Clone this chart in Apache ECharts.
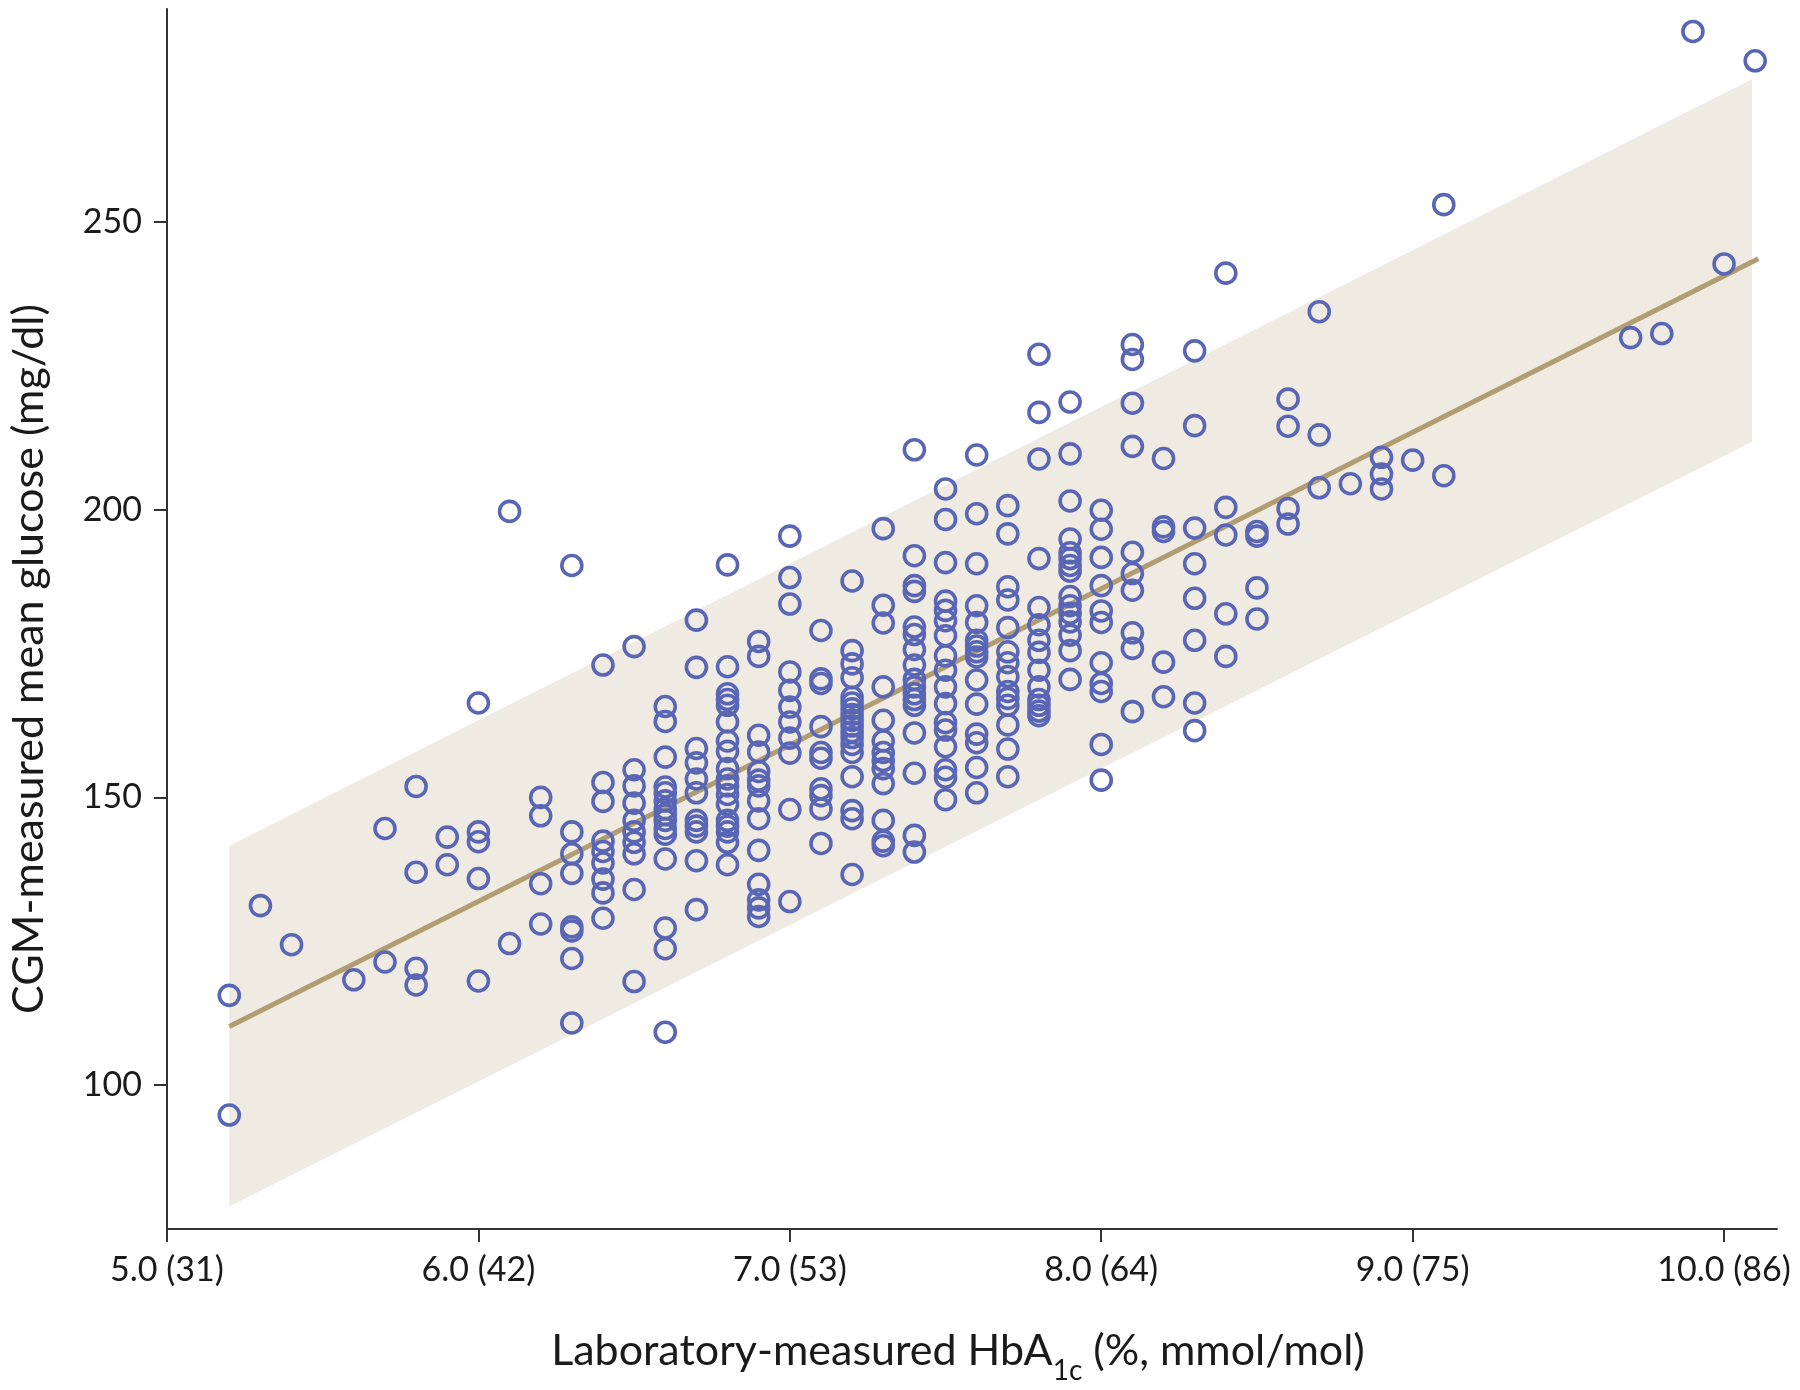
<!DOCTYPE html>
<html>
<head>
<meta charset="utf-8">
<script src="https://cdn.jsdelivr.net/npm/echarts@6.0.0/dist/echarts.min.js"></script>
<style>
  html, body { margin: 0; padding: 0; background: #fff; }
  #chart { width: 1800px; height: 1390px; }
</style>
</head>
<body>
<div id="chart"></div>
<script>
// HbA1c levels (%) and CGM mean glucose readings (mg/dl) at each level
const hba1cLevels = [5.2, 5.3, 5.4, 5.6, 5.7, 5.8, 5.9, 6.0, 6.1, 6.2, 6.3, 6.4, 6.5, 6.6, 6.7, 6.8, 6.9,
  7.0, 7.1, 7.2, 7.3, 7.4, 7.5, 7.6, 7.7, 7.8, 7.9, 8.0, 8.1, 8.2, 8.3, 8.4, 8.5, 8.6, 8.7, 8.8, 8.9,
  9.0, 9.1, 9.7, 9.8, 9.9, 10.0, 10.1];
const glucoseByLevel = [
  [115.6, 94.8],
  [131.2],
  [124.4],
  [118.3],
  [144.6, 121.4],
  [151.9, 137.0, 120.3, 117.4],
  [143.1, 138.3],
  [166.4, 144.0, 142.3, 135.9, 118.1],
  [199.7, 124.6],
  [150.0, 146.8, 135.0, 128.0],
  [190.3, 144.0, 140.2, 136.8, 127.5, 126.8, 122.0, 110.8],
  [173.0, 152.6, 149.3, 142.4, 140.6, 138.6, 135.8, 133.4, 129.0],
  [176.2, 154.8, 152.0, 149.0, 146.0, 144.0, 142.2, 140.2, 134.0, 118.0],
  [165.8, 163.2, 157.0, 151.8, 150.8, 149.4, 148.0, 147.0, 146.0, 144.6, 143.6, 139.3, 127.3, 123.7, 109.2],
  [180.8, 172.6, 158.5, 156.0, 153.2, 150.8, 146.0, 145.0, 144.0, 139.0, 130.5],
  [190.4, 172.7, 168.0, 167.0, 166.0, 163.1, 159.8, 158.0, 155.0, 153.2, 152.0, 150.5, 148.8, 146.0, 145.0, 144.0, 142.2, 138.3],
  [177.1, 174.5, 160.8, 157.9, 154.5, 153.0, 152.0, 149.4, 146.3, 140.8, 134.9, 132.2, 130.8, 129.3],
  [195.4, 188.2, 183.6, 171.8, 168.6, 165.7, 163.1, 160.3, 157.7, 147.9, 131.9],
  [179.0, 170.6, 169.8, 162.3, 157.8, 156.8, 151.5, 150.3, 148.0, 142.0],
  [187.6, 175.5, 173.2, 170.8, 167.4, 166.4, 165.4, 164.4, 163.4, 162.4, 161.4, 160.4, 159.2, 157.8, 153.6, 147.7, 146.3, 136.6],
  [196.7, 183.4, 180.3, 169.2, 163.4, 159.8, 157.8, 156.4, 155.0, 152.4, 146.0, 142.4, 141.6],
  [210.4, 192.0, 186.8, 185.8, 179.6, 178.3, 175.7, 173.0, 170.5, 169.2, 168.0, 167.0, 166.0, 161.2, 154.2, 143.4, 140.5],
  [203.6, 198.3, 190.8, 184.1, 182.5, 180.7, 178.1, 174.6, 172.1, 169.2, 166.3, 163.0, 161.7, 158.8, 154.8, 153.5, 149.6],
  [209.5, 199.3, 190.6, 183.3, 180.4, 177.3, 176.3, 175.3, 174.4, 170.4, 166.2, 161.0, 159.5, 155.2, 150.8],
  [200.7, 195.8, 186.6, 184.3, 179.5, 175.3, 173.4, 171.0, 168.4, 167.2, 166.0, 162.6, 158.4, 153.6],
  [227.0, 216.9, 208.8, 191.5, 183.0, 180.0, 177.3, 175.2, 172.1, 169.2, 167.0, 166.0, 165.0, 164.2],
  [218.7, 209.7, 201.5, 194.9, 192.5, 191.5, 190.3, 189.3, 184.9, 183.3, 182.0, 180.5, 178.2, 175.5, 170.5],
  [199.9, 196.6, 191.7, 186.8, 182.4, 180.4, 173.4, 169.8, 168.4, 159.2, 153.0],
  [228.7, 226.1, 218.5, 211.0, 192.6, 188.9, 186.0, 178.6, 175.9, 164.9],
  [208.9, 197.0, 196.2, 173.5, 167.5],
  [227.6, 214.6, 196.8, 190.6, 184.6, 177.3, 166.4, 161.6],
  [241.1, 200.4, 195.6, 181.9, 174.5],
  [196.2, 195.4, 186.4, 181.0],
  [219.2, 214.5, 200.2, 197.5],
  [234.4, 213.0, 203.8],
  [204.5],
  [209.1, 206.2, 203.6],
  [208.6],
  [253.0, 205.9],
  [229.9],
  [230.6],
  [283.1],
  [242.7],
  [278.0]
];

// regression line and its band
const fitX = [5.2, 10.11];
const fitY = [110.2, 243.6];
const bandX = [5.2, 10.09];
const bandUpper = [141.6, 274.8];
const bandLower = [78.9, 211.8];

// axis ticks
const xTicks = [5, 6, 7, 8, 9, 10];
const xTickLabels = ['5.0 (31)', '6.0 (42)', '7.0 (53)', '8.0 (64)', '9.0 (75)', '10.0 (86)'];
const yTicks = [100, 150, 200, 250];

let points = [];
for (let i = 0; i < hba1cLevels.length; i++) {
  for (let j = 0; j < glucoseByLevel[i].length; j++) {
    points.push([hba1cLevels[i], glucoseByLevel[i][j]]);
  }
}

const font = "Lato";
const textColor = "#1a1a1a";
const axisColor = "#333";

let myEcharts = echarts.init(document.getElementById("chart"));
let option = {
  animation: false,
  grid: { left: 161, right: 23, top: 9, bottom: 160 },
  xAxis: {
    type: "value",
    min: 5,
    max: 10.17,
    name: "{a|Laboratory-measured HbA}{s|1c}{a| (%, mmol/mol)}",
    nameLocation: "middle",
    nameGap: 92,
    nameTextStyle: {
      padding: [0, 28, 0, 0],
      rich: {
        a: { fontFamily: font, fontSize: 43, color: textColor, verticalAlign: "bottom", lineHeight: 52 },
        s: { fontFamily: font, fontSize: 28, color: textColor, verticalAlign: "bottom", lineHeight: 52, padding: [0, 0, -12, 0] }
      }
    },
    splitLine: { show: false },
    axisLine: { lineStyle: { color: axisColor, width: 2 } },
    axisTick: { customValues: xTicks, length: 13, lineStyle: { color: axisColor, width: 2 } },
    axisLabel: {
      customValues: xTicks,
      margin: 24,
      fontFamily: font,
      fontSize: 34,
      color: textColor,
      formatter: function (v) {
        let i = xTicks.indexOf(Math.round(v));
        return i >= 0 ? xTickLabels[i] : "";
      }
    }
  },
  yAxis: {
    type: "value",
    min: 75,
    max: 287,
    name: "CGM-measured mean glucose (mg/dl)",
    nameLocation: "middle",
    nameRotate: 90,
    nameGap: 116,
    nameTextStyle: { fontFamily: font, fontSize: 43, color: textColor, padding: [0, 80, 0, 0] },
    splitLine: { show: false },
    axisLine: { lineStyle: { color: axisColor, width: 2 } },
    axisTick: { customValues: yTicks, length: 13, lineStyle: { color: axisColor, width: 2 } },
    axisLabel: { customValues: yTicks, margin: 25, fontFamily: font, fontSize: 34, color: textColor }
  },
  series: [
    {
      type: "custom",
      silent: true,
      z: 1,
      data: [[bandX[0], bandUpper[0]]],
      renderItem: function (params, api) {
        let pts = [];
        for (let i = 0; i < bandX.length; i++) pts.push(api.coord([bandX[i], bandUpper[i]]));
        for (let i = bandX.length - 1; i >= 0; i--) pts.push(api.coord([bandX[i], bandLower[i]]));
        return { type: "polygon", shape: { points: pts }, style: { fill: "#efeae2" } };
      }
    },
    {
      type: "line",
      z: 2,
      silent: true,
      showSymbol: false,
      data: fitX.map((x, i) => [x, fitY[i]]),
      lineStyle: { color: "#b29d72", width: 5 }
    },
    {
      type: "scatter",
      z: 3,
      symbol: "circle",
      symbolSize: 20,
      data: points,
      itemStyle: { color: "rgba(0,0,0,0)", borderColor: "#5966b6", borderWidth: 3.6, opacity: 1 }
    }
  ]
};
myEcharts.setOption(option);
</script>
</body>
</html>
